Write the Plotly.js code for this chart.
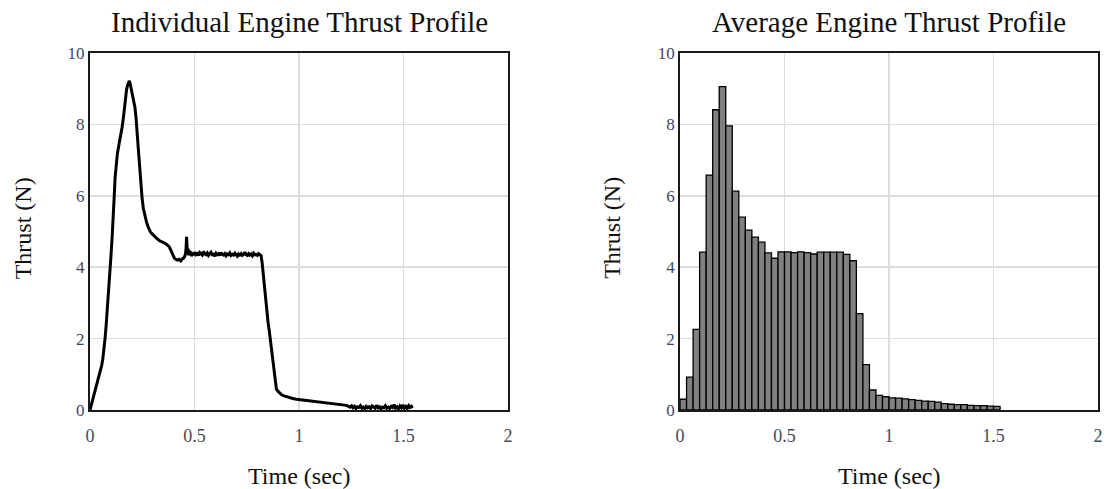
<!DOCTYPE html>
<html>
<head>
<meta charset="utf-8">
<script src="https://cdn.plot.ly/plotly-3.0.1.min.js"></script>
<style>
  html, body { margin: 0; padding: 0; background: #ffffff; }
  #chart { width: 1107px; height: 489px; }
</style>
</head>
<body>
<div id="chart"></div>
<script>
// ---- Data: individual engine thrust trace (time in sec, thrust in N) ----
const individualTime = [
  0, 0.008, 0.016, 0.024, 0.032, 0.040, 0.048, 0.056, 0.061, 0.067, 0.072, 0.077, 0.083, 0.088, 0.094, 0.099,
  0.106, 0.112, 0.116, 0.120, 0.125, 0.131, 0.139, 0.147, 0.153, 0.159, 0.166, 0.171, 0.175, 0.180, 0.184, 0.188,
  0.192, 0.196, 0.199, 0.205, 0.210, 0.215, 0.220, 0.224, 0.228, 0.232, 0.236, 0.240, 0.244, 0.249, 0.255, 0.262,
  0.271, 0.280, 0.290, 0.300, 0.311, 0.322, 0.333, 0.343, 0.355, 0.367, 0.378, 0.385, 0.391, 0.397, 0.403, 0.410,
  0.418, 0.426, 0.434, 0.441, 0.447, 0.453, 0.457, 0.460, 0.462, 0.464, 0.466, 0.469, 0.472, 0.475, 0.478, 0.482,
  0.486, 0.491, 0.496, 0.501, 0.507, 0.513, 0.519, 0.525, 0.531, 0.537, 0.543, 0.549, 0.555, 0.561, 0.567, 0.573,
  0.579, 0.585, 0.591, 0.597, 0.603, 0.609, 0.615, 0.621, 0.627, 0.633, 0.639, 0.645, 0.651, 0.657, 0.663, 0.669,
  0.675, 0.681, 0.687, 0.693, 0.699, 0.705, 0.711, 0.717, 0.723, 0.729, 0.735, 0.741, 0.747, 0.753, 0.759, 0.765,
  0.771, 0.777, 0.783, 0.789, 0.795, 0.801, 0.807, 0.813, 0.819, 0.824, 0.829, 0.834, 0.840, 0.846, 0.852, 0.857,
  0.862, 0.867, 0.872, 0.877, 0.882, 0.887, 0.892, 0.900, 0.908, 0.916, 0.925, 0.934, 0.944, 0.956, 0.970, 0.988,
  1.004, 1.020, 1.036, 1.052, 1.068, 1.084, 1.100, 1.116, 1.132, 1.148, 1.164, 1.180, 1.196, 1.212, 1.227, 1.237,
  1.245, 1.252, 1.259, 1.266, 1.273, 1.280, 1.287, 1.294, 1.301, 1.308, 1.315, 1.322, 1.329, 1.336, 1.343, 1.350,
  1.357, 1.364, 1.371, 1.378, 1.385, 1.392, 1.399, 1.406, 1.413, 1.420, 1.427, 1.434, 1.441, 1.448, 1.455, 1.462,
  1.469, 1.476, 1.483, 1.490, 1.497, 1.504, 1.511, 1.518, 1.525, 1.532, 1.538, 1.542
];
const individualThrust = [
  0, 0.18, 0.37, 0.52, 0.70, 0.86, 1.03, 1.25, 1.42, 1.70, 2.00, 2.35, 2.95, 3.30, 3.75, 4.20,
  4.85, 5.40, 6.00, 6.50, 6.90, 7.18, 7.45, 7.68, 7.90, 8.15, 8.55, 8.80, 8.98, 9.10, 9.18, 9.22,
  9.14, 9.04, 8.95, 8.75, 8.62, 8.48, 8.20, 7.95, 7.55, 7.25, 6.95, 6.55, 6.20, 5.95, 5.65, 5.45,
  5.25, 5.10, 4.98, 4.92, 4.84, 4.79, 4.74, 4.72, 4.68, 4.64, 4.58, 4.50, 4.42, 4.32, 4.26, 4.22,
  4.20, 4.22, 4.18, 4.23, 4.25, 4.30, 4.38, 4.55, 4.85, 4.60, 4.40, 4.52, 4.33, 4.47, 4.36, 4.44,
  4.31, 4.40, 4.34, 4.42, 4.35, 4.38, 4.33, 4.41, 4.36, 4.34, 4.44, 4.37, 4.35, 4.40, 4.33, 4.37,
  4.42, 4.35, 4.36, 4.31, 4.39, 4.35, 4.38, 4.33, 4.41, 4.36, 4.34, 4.38, 4.32, 4.37, 4.35, 4.40,
  4.33, 4.36, 4.34, 4.39, 4.35, 4.31, 4.37, 4.34, 4.38, 4.33, 4.36, 4.42, 4.35, 4.33, 4.38, 4.34,
  4.37, 4.32, 4.39, 4.35, 4.36, 4.33, 4.38, 4.34, 4.32, 4.10, 3.80, 3.50, 3.05, 2.70, 2.45, 2.25,
  2.00, 1.75, 1.45, 1.15, 0.90, 0.70, 0.58, 0.52, 0.47, 0.43, 0.40, 0.38, 0.36, 0.34, 0.32, 0.30,
  0.29, 0.27, 0.26, 0.25, 0.23, 0.23, 0.22, 0.21, 0.20, 0.19, 0.19, 0.17, 0.16, 0.15, 0.13, 0.10,
  0.08, 0.12, 0.06, 0.10, 0.04, 0.09, 0.07, 0.12, 0.05, 0.08, 0.03, 0.10, 0.06, 0.09, 0.04, 0.11,
  0.07, 0.05, 0.13, 0.06, 0.09, 0.03, 0.08, 0.06, 0.12, 0.05, 0.08, 0.04, 0.10, 0.07, 0.15, 0.05,
  0.09, 0.03, 0.11, 0.06, 0.14, 0.05, 0.10, 0.04, 0.12, 0.07, 0.10, 0.05
];

// ---- Data: average engine thrust, one value per time bin ----
const binStart = 0;          // first bin starts at t = 0 s
const binWidth = 0.03125;    // bin width (s)
const averageThrust = [
  0.30, 0.92, 2.26, 4.42, 6.58, 8.41, 9.06, 7.96, 6.13, 5.40,
  5.04, 4.84, 4.70, 4.40, 4.25, 4.43, 4.43, 4.41, 4.43, 4.41,
  4.37, 4.42, 4.42, 4.42, 4.42, 4.36, 4.18, 2.70, 1.27, 0.56,
  0.41, 0.37, 0.34, 0.33, 0.31, 0.29, 0.27, 0.25, 0.24, 0.22,
  0.18, 0.16, 0.15, 0.15, 0.13, 0.12, 0.12, 0.11, 0.10
];

// ---- Text ----
const titleLeft = "Individual Engine Thrust Profile";
const titleRight = "Average Engine Thrust Profile";
const xTitle = "Time (sec)";
const yTitle = "Thrust (N)";
const xTickVals = [0, 0.5, 1, 1.5, 2];
const xTickText = ["0", "0.5", "1", "1.5", "2"];
const yTickVals = [0, 2, 4, 6, 8, 10];
const yTickText = ["0", "2", "4", "6", "8", "10"];

const serif = "Liberation Serif, Times New Roman, serif";

const traces = [
  {
    type: "scatter", mode: "lines",
    x: individualTime, y: individualThrust,
    xaxis: "x", yaxis: "y",
    line: { color: "#000000", width: 3 },
    hoverinfo: "x+y", showlegend: false
  },
  {
    type: "bar",
    x0: binStart + binWidth / 2, dx: binWidth, y: averageThrust,
    width: binWidth,
    xaxis: "x2", yaxis: "y2",
    marker: { color: "#808080", line: { color: "#000000", width: 1.3 } },
    hoverinfo: "x+y", showlegend: false
  }
];

function xAxis(domain, anchor) {
  return {
    domain: domain, anchor: anchor,
    range: [0, 2], tickmode: "array", tickvals: xTickVals, ticktext: xTickText,
    showline: true, mirror: true, linecolor: "#1a1a1a", linewidth: 2,
    showgrid: true, gridcolor: "#dcdcdc", gridwidth: 1.5, zeroline: false,
    ticks: "", ticklabelstandoff: 8,
    tickfont: { family: serif, size: 18, color: "#454a55" },
    fixedrange: true
  };
}
function yAxis(anchor) {
  return {
    domain: [0.1616, 0.8916], anchor: anchor,
    range: [0, 10], tickmode: "array", tickvals: yTickVals, ticktext: yTickText,
    showline: true, mirror: true, linecolor: "#1a1a1a", linewidth: 2,
    showgrid: true, gridcolor: "#dcdcdc", gridwidth: 1.5, zeroline: false,
    ticks: "", ticklabelstandoff: 0,
    tickfont: { family: serif, size: 17, color: "#3e4860" },
    fixedrange: true
  };
}

const ann = (text, x, y, size, angle) => ({
  text: text, x: x, y: y, xref: "paper", yref: "paper",
  xanchor: "center", yanchor: "middle", showarrow: false,
  textangle: angle || 0,
  font: { family: serif, size: size, color: "#111111" }
});

const layout = {
  width: 1107, height: 489,
  margin: { l: 0, r: 0, t: 0, b: 0 },
  paper_bgcolor: "#ffffff", plot_bgcolor: "#ffffff",
  xaxis: xAxis([0.0813, 0.4589], "y"),
  yaxis: yAxis("x"),
  xaxis2: xAxis([0.6143, 0.9919], "y2"),
  yaxis2: yAxis("x2"),
  bargap: 0,
  annotations: [
    ann(titleLeft, 0.2701, 0.956, 29),
    ann(titleRight, 0.8031, 0.956, 29),
    ann(xTitle, 0.2701, 0.026, 24),
    ann(xTitle, 0.8031, 0.026, 24),
    ann(yTitle, 0.0203, 0.534, 24, -90),
    ann(yTitle, 0.5528, 0.534, 24, -90)
  ]
};

Plotly.newPlot("chart", traces, layout, { displayModeBar: false, staticPlot: true });
</script>
</body>
</html>
